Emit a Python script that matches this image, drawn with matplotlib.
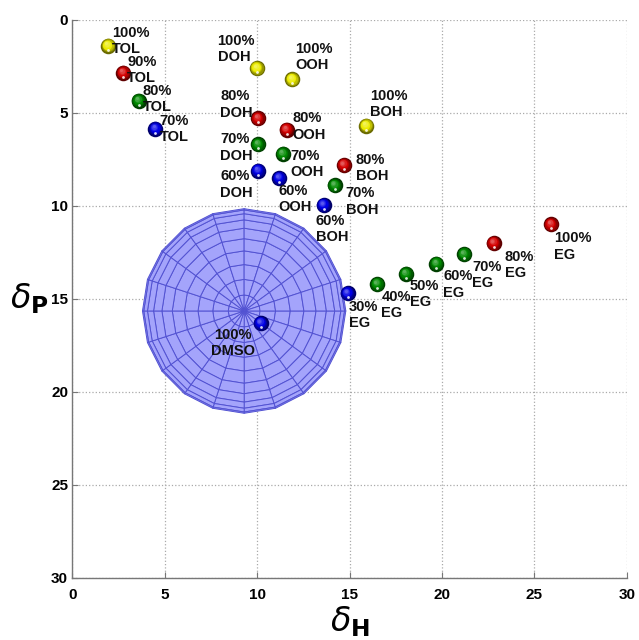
import numpy as np
import matplotlib
matplotlib.use('Agg')
import matplotlib.pyplot as plt
import matplotlib.colors as mcolors
from matplotlib.collections import PolyCollection
from matplotlib.transforms import offset_copy

plt.rcParams['font.family'] = ['Liberation Sans', 'DejaVu Sans']

# Hansen-type coordinates (delta_H, delta_P)
tol_pct = ['100%', '90%', '80%', '70%']
tol_h = [1.95, 2.76, 3.6, 4.5]
tol_p = [1.4, 2.85, 4.35, 5.86]
tol_col = ['yellow', 'red', 'green', 'blue']

doh_pct = ['100%', '80%', '70%', '60%']
doh_h = [10.0, 10.05, 10.05, 10.05]
doh_p = [2.6, 5.3, 6.7, 8.1]
doh_col = ['yellow', 'red', 'green', 'blue']

ooh_pct = ['100%', '80%', '70%', '60%']
ooh_h = [11.9, 11.6, 11.4, 11.2]
ooh_p = [3.2, 5.9, 7.2, 8.5]
ooh_col = ['yellow', 'red', 'green', 'blue']

boh_pct = ['100%', '80%', '70%', '60%']
boh_h = [15.9, 14.7, 14.2, 13.6]
boh_p = [5.7, 7.8, 8.9, 9.95]
boh_col = ['yellow', 'red', 'green', 'blue']

eg_pct = ['100%', '80%', '70%', '60%', '50%', '40%', '30%']
eg_h = [25.9, 22.8, 21.2, 19.7, 18.05, 16.5, 14.9]
eg_p = [11.0, 12.0, 12.6, 13.1, 13.65, 14.2, 14.7]
eg_col = ['red', 'red', 'green', 'green', 'green', 'green', 'blue']

dmso_pct = ['100%']
dmso_h = [10.2]
dmso_p = [16.3]
dmso_col = ['blue']

# solubility sphere
sphere_h = 9.3
sphere_p = 15.65
sphere_r = 5.5

# label offsets in pixels (dx, dy) and alignment
tol_off = [(4, 5), (4, 3), (4, 2), (4, 0)]
doh_off = [(-2, 19), (-5, 14), (-5, -3), (-5, -14)]
ooh_off = [(3, 22), (6, 3), (7, -10), (-1, -21)]
boh_off = [(4, 22), (12, -3), (11, -16), (-8, -24)]
eg_off = [(3, -22), (11, -22), (8, -21), (7, -21), (4, -20), (4, -21), (1, -22)]
dmso_off = [(-28, -20)]

base = {'yellow': '#ecec00', 'red': '#d40000', 'green': '#008a00', 'blue': '#0000e6'}

fig = plt.figure(figsize=(6.39, 6.40), dpi=100)
ax = fig.add_axes([0.113, 0.097, 0.868, 0.872])

# sphere drawn as surface grid seen from above
n = 20
theta = np.linspace(0, 2 * np.pi, n + 1)
lat = np.linspace(0, np.pi / 2, n // 2 + 1)
rr = sphere_r * np.sin(lat)
polys = []
for i in range(len(rr) - 1):
    for j in range(n):
        t0, t1 = theta[j], theta[j + 1]
        r0, r1 = rr[i], rr[i + 1]
        polys.append([(sphere_h + r0 * np.cos(t0), sphere_p + r0 * np.sin(t0)),
                      (sphere_h + r1 * np.cos(t0), sphere_p + r1 * np.sin(t0)),
                      (sphere_h + r1 * np.cos(t1), sphere_p + r1 * np.sin(t1)),
                      (sphere_h + r0 * np.cos(t1), sphere_p + r0 * np.sin(t1))])
pc = PolyCollection(polys, facecolor='#a4a4fb', edgecolor='#5252d2', linewidths=0.7, zorder=2)
ax.add_collection(pc)


def ball(h, p, cname):
    c = np.array(mcolors.to_rgb(base[cname]))
    dark = c * 0.45
    light = c + (1 - c) * 0.35
    size = 125
    nl = 7
    for k in range(nl):
        f = k / (nl - 1)
        if f < 0.5:
            col = dark + (c - dark) * (f / 0.5)
        else:
            col = c + (light - c) * ((f - 0.5) / 0.5)
        s = size * (1 - 0.8 * f) ** 2
        tr = offset_copy(ax.transData, fig=fig, x=-0.3 * k, y=0.4 * k, units='dots')
        ax.scatter([h], [p], s=s, color=col, linewidths=0, transform=tr, zorder=4 + k * 0.01)
    tr = offset_copy(ax.transData, fig=fig, x=0, y=-4, units='dots')
    ax.scatter([h], [p], s=4, color='white', alpha=0.85, linewidths=0, transform=tr, zorder=4.2)


groups = [
    ('TOL', tol_pct, tol_h, tol_p, tol_col, tol_off, 'left'),
    ('DOH', doh_pct, doh_h, doh_p, doh_col, doh_off, 'right'),
    ('OOH', ooh_pct, ooh_h, ooh_p, ooh_col, ooh_off, 'left'),
    ('BOH', boh_pct, boh_h, boh_p, boh_col, boh_off, 'left'),
    ('EG', eg_pct, eg_h, eg_p, eg_col, eg_off, 'left'),
    ('DMSO', dmso_pct, dmso_h, dmso_p, dmso_col, dmso_off, 'center'),
]

for name, pct, hs, ps, cols, offs, ha in groups:
    for lab, h, p, c, (dx, dy) in zip(pct, hs, ps, cols, offs):
        ball(h, p, c)
        ma = 'center' if ha == 'center' else 'left'
        ax.annotate(lab + '\n' + name, (h, p), xytext=(dx, dy), textcoords='offset pixels',
                    ha=ha, va='center', multialignment=ma, fontsize=10.5,
                    fontweight='bold', color='#111111', linespacing=1.2, zorder=6)

ax.set_xlim(0, 30)
ax.set_ylim(30, 0)
ax.set_xticks(range(0, 31, 5))
ax.set_yticks(range(0, 31, 5))
ax.grid(True, linestyle=':', color='#aaaaaa', linewidth=0.9)
ax.set_axisbelow(True)
for s in ['top', 'right']:
    ax.spines[s].set_visible(False)
for s in ['left', 'bottom']:
    ax.spines[s].set_color('#777777')
    ax.spines[s].set_linewidth(1.0)
ax.tick_params(direction='in', length=4, color='#777777', labelsize=11, pad=3)
ax.tick_params(axis='x', pad=7)
for t in ax.get_xticklabels() + ax.get_yticklabels():
    t.set_fontweight('bold')

ax.set_xlabel(r'$\delta_{\mathbf{H}}$', fontsize=24, labelpad=2)
ax.set_ylabel(r'$\delta_{\mathbf{P}}$', fontsize=24, rotation=0, labelpad=16, va='center')

fig.savefig('out.png', dpi=100)
